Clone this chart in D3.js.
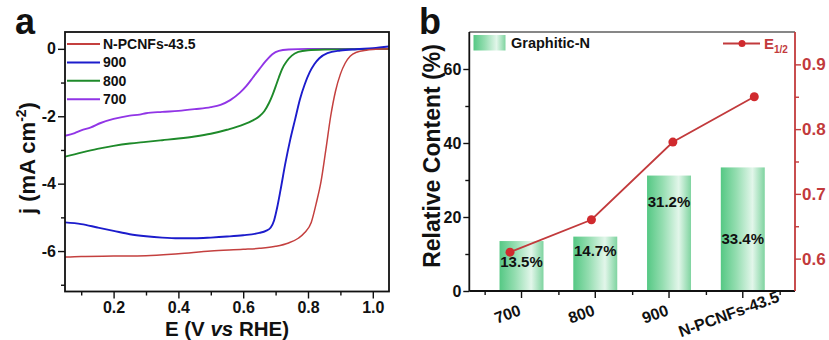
<!DOCTYPE html>
<html><head><meta charset="utf-8">
<script src="https://cdn.jsdelivr.net/npm/d3@7"></script>
<style>
body{margin:0;background:#fff;}
svg text{font-family:Arial,"Liberation Sans",sans-serif;}
</style></head>
<body><svg id="c" width="829" height="340"></svg>
<script>
// ---------- Panel a data (LSV curves) ----------
const seriesNames = ["N-PCNFs-43.5","900","800","700"];
const seriesColors = ["#c4403f","#1c1ccc","#1e8a2a","#9135e6"];
const redE = [0.05,0.1,0.2,0.3,0.4,0.5,0.6,0.65,0.7,0.74,0.77,0.79,0.81,0.825,0.84,0.855,0.87,0.885,0.9,0.915,0.93,0.95,0.98,1.0,1.05];
const redJ = [-6.18,-6.16,-6.15,-6.14,-6.08,-6.0,-5.95,-5.92,-5.86,-5.76,-5.62,-5.45,-5.15,-4.6,-3.95,-3.0,-2.0,-1.25,-0.75,-0.42,-0.22,-0.1,-0.04,-0.02,0.0];
const blueE = [0.05,0.1,0.15,0.2,0.25,0.3,0.35,0.4,0.45,0.5,0.55,0.6,0.65,0.67,0.685,0.695,0.705,0.715,0.73,0.745,0.76,0.775,0.79,0.805,0.82,0.835,0.86,0.9,0.95,1.0,1.05];
const blueJ = [-5.15,-5.2,-5.3,-5.4,-5.5,-5.56,-5.6,-5.62,-5.62,-5.6,-5.57,-5.53,-5.46,-5.4,-5.3,-5.1,-4.7,-4.2,-3.4,-2.7,-2.1,-1.5,-1.05,-0.7,-0.45,-0.28,-0.13,-0.05,-0.01,0.02,0.07];
const greenE = [0.05,0.1,0.15,0.2,0.25,0.3,0.35,0.4,0.45,0.5,0.55,0.6,0.63,0.65,0.665,0.68,0.69,0.7,0.71,0.72,0.735,0.75,0.77,0.8,0.85,1.05];
const greenJ = [-3.2,-3.08,-2.97,-2.88,-2.81,-2.76,-2.71,-2.66,-2.6,-2.52,-2.4,-2.25,-2.12,-2.0,-1.85,-1.6,-1.38,-1.12,-0.85,-0.6,-0.36,-0.2,-0.09,-0.04,-0.02,0.0];
const purpleE = [0.05,0.08,0.1,0.13,0.16,0.2,0.25,0.28,0.3,0.35,0.4,0.45,0.5,0.53,0.56,0.59,0.61,0.63,0.65,0.67,0.69,0.71,0.74,0.8,1.05];
const purpleJ = [-2.58,-2.5,-2.42,-2.33,-2.2,-2.08,-1.98,-1.95,-1.91,-1.87,-1.84,-1.79,-1.73,-1.66,-1.52,-1.3,-1.1,-0.85,-0.6,-0.36,-0.16,-0.06,-0.02,0.0,0.0];
const xTicksA = [0.2,0.4,0.6,0.8,1.0];
const yTicksA = [0,-2,-4,-6];

// ---------- Panel b data ----------
const categories = ["700","800","900","N-PCNFs-43.5"];
const graphiticN = [13.5,14.7,31.2,33.4];
const barLabels = ["13.5%","14.7%","31.2%","33.4%"];
const barLabelAt = [7.9,11.05,24.07,14.2];
const e12 = [0.61,0.66,0.78,0.85];
const yTicksB = [0,20,40,60];
const yTicksR = [0.6,0.7,0.8,0.9];

const svg = d3.select("#c");
const F = 'Arial,"Liberation Sans",sans-serif';

// ================= Panel a =================
const aL=65,aR=389,aT=32,aB=291.5;
const xA = d3.scaleLinear().domain([0.05,1.05]).range([aL,aR]);
const yA = d3.scaleLinear().domain([-7.2,0.5]).range([aB,aT]);
const gA = svg.append("g");

gA.append("g").attr("transform",`translate(0,${aB})`)
  .call(d3.axisBottom(xA).tickValues([0.1,0.3,0.5,0.7,0.9]).tickSize(4).tickFormat(""))
  .call(g=>g.select(".domain").remove());
gA.append("g").attr("transform",`translate(${aL},0)`)
  .call(d3.axisLeft(yA).tickValues([-1,-3,-5,-7]).tickSize(4).tickFormat(""))
  .call(g=>g.select(".domain").remove());
const axA = gA.append("g").attr("transform",`translate(0,${aB})`)
  .call(d3.axisBottom(xA).tickValues(xTicksA).tickSize(7).tickPadding(3).tickFormat(d3.format(".1f")))
  .call(g=>g.select(".domain").remove());
axA.selectAll("text").attr("font-size",16).attr("font-weight","bold").attr("font-family",F).attr("fill","#111");
const ayA = gA.append("g").attr("transform",`translate(${aL},0)`)
  .call(d3.axisLeft(yA).tickValues(yTicksA).tickSize(7).tickPadding(2).tickFormat(d=>String(d)))
  .call(g=>g.select(".domain").remove());
ayA.selectAll("text").attr("font-size",16).attr("font-weight","bold").attr("font-family",F).attr("fill","#111");
gA.selectAll(".tick line").attr("stroke","#111").attr("stroke-width",1.4);

svg.append("clipPath").attr("id","clipA").append("rect")
  .attr("x",aL).attr("y",aT).attr("width",aR-aL).attr("height",aB-aT);
const lineA = d3.line().x(d=>xA(d[0])).y(d=>yA(d[1])).curve(d3.curveMonotoneX);
const curves = [[redE,redJ],[blueE,blueJ],[greenE,greenJ],[purpleE,purpleJ]];
curves.slice().reverse().forEach((c,ri)=>{
  const i = curves.length-1-ri;
  const pts = c[0].map((e,k)=>[e,c[1][k]]);
  gA.append("path").attr("d",lineA(pts)).attr("fill","none")
    .attr("stroke",seriesColors[i]).attr("stroke-width",i===0?1.5:1.9).attr("clip-path","url(#clipA)");
});
gA.append("rect").attr("x",aL).attr("y",aT).attr("width",aR-aL).attr("height",aB-aT)
  .attr("fill","none").attr("stroke","#111").attr("stroke-width",1.8);

seriesNames.forEach((n,i)=>{
  const y = 44 + i*18.4;
  gA.append("line").attr("x1",67).attr("x2",100).attr("y1",y).attr("y2",y)
    .attr("stroke",seriesColors[i]).attr("stroke-width",2);
  gA.append("text").attr("x",103).attr("y",y).attr("dy","0.36em").text(n)
    .attr("font-size",14).attr("font-weight","bold").attr("fill","#111");
});
gA.append("text").attr("x",(aL+aR)/2).attr("y",336).attr("text-anchor","middle")
  .attr("font-size",20.5).attr("font-weight","bold").attr("fill","#111")
  .call(t=>{t.append("tspan").text("E (V ");t.append("tspan").attr("font-style","italic").text("vs");t.append("tspan").text(" RHE)");});
gA.append("text").attr("transform","translate(35,158) rotate(-90)").attr("text-anchor","middle")
  .attr("font-size",22).attr("font-weight","bold").attr("fill","#111")
  .call(t=>{t.append("tspan").text("j (mA cm");t.append("tspan").attr("font-size",14).attr("dy",-9).text("-2");t.append("tspan").attr("dy",9).text(")");});
gA.append("text").attr("x",15).attr("y",34).text("a").attr("font-size",36).attr("font-weight","bold").attr("fill","#111");

// ================= Panel b =================
const bL=469.3,bR=795,bT=32,bB=291;
const xB = d3.scaleBand().domain(categories).range([bL,bR]).paddingInner(0.404).paddingOuter(0.41);
const xP = d3.scalePoint().domain(categories).range([bL,bR]).padding(0.5);
const yB = d3.scaleLinear().domain([0,70]).range([bB,bT]);
const yR = d3.scaleLinear().domain([0.55,0.95]).range([bB,bT]);
const gB = svg.append("g");
const defs = svg.append("defs");
const grad = defs.append("linearGradient").attr("id","gbar").attr("x1","0").attr("x2","1").attr("y1","0").attr("y2","0");
grad.append("stop").attr("offset","0%").attr("stop-color","#55c884");
grad.append("stop").attr("offset","35%").attr("stop-color","#94ddb0");
grad.append("stop").attr("offset","72%").attr("stop-color","#e2f6ea");
grad.append("stop").attr("offset","100%").attr("stop-color","#7fd4a0");

gB.selectAll("rect.bar").data(graphiticN).join("rect").attr("class","bar")
  .attr("x",(d,i)=>xB(categories[i])).attr("width",xB.bandwidth())
  .attr("y",d=>yB(d)).attr("height",d=>yB(0)-yB(d)).attr("fill","url(#gbar)");

const step = xB.step();
const minorX = categories.map(c=>xB(c)+xB.bandwidth()/2-step/2).concat([xB(categories[3])+xB.bandwidth()/2+step/2]);
const xBc = d3.scaleLinear().domain([bL,bR]).range([bL,bR]);
gB.append("g").attr("transform",`translate(0,${bB})`)
  .call(d3.axisBottom(xBc).tickValues(minorX).tickSize(4).tickFormat(""))
  .call(g=>g.select(".domain").remove());
gB.append("g").attr("transform",`translate(0,${bB})`)
  .call(d3.axisBottom(xB).tickSize(7).tickFormat(""))
  .call(g=>g.select(".domain").remove());
gB.append("g").selectAll("text").data(categories).join("text")
  .attr("transform",d=>`translate(${xB(d)+xB.bandwidth()/2-14},314) rotate(-20)`)
  .attr("text-anchor","middle").attr("dy","0.35em").text(d=>d)
  .attr("font-size",16).attr("font-weight","bold").attr("fill","#111");

gB.append("g").attr("transform",`translate(${bL},0)`)
  .call(d3.axisLeft(yB).tickValues([10,30,50]).tickSize(4).tickFormat(""))
  .call(g=>g.select(".domain").remove());
const lyB2 = gB.append("g").attr("transform",`translate(${bL},0)`)
  .call(d3.axisLeft(yB).tickValues(yTicksB).tickSize(6).tickPadding(2))
  .call(g=>g.select(".domain").remove());
lyB2.selectAll("text").attr("font-size",16).attr("font-weight","bold").attr("font-family",F).attr("fill","#111");
gB.selectAll(".tick line").attr("stroke","#111").attr("stroke-width",1.4);

const red = "#c23a3c";
const ryB = gB.append("g").attr("transform",`translate(${bR},0)`)
  .call(d3.axisRight(yR).tickValues([0.65,0.75,0.85]).tickSize(4).tickFormat(""))
  .call(g=>g.select(".domain").remove());
const ryB2 = gB.append("g").attr("transform",`translate(${bR},0)`)
  .call(d3.axisRight(yR).tickValues(yTicksR).tickSize(6).tickPadding(1).tickFormat(d3.format(".1f")))
  .call(g=>g.select(".domain").remove());
ryB.selectAll("line").attr("stroke",red).attr("stroke-width",1.4);
ryB2.selectAll("line").attr("stroke",red).attr("stroke-width",1.4);
ryB2.selectAll("text").attr("font-size",17).attr("font-weight","bold").attr("font-family",F).attr("fill",red);

gB.append("line").attr("x1",bL).attr("x2",bR).attr("y1",bT).attr("y2",bT).attr("stroke","#111").attr("stroke-width",1.2);
gB.append("line").attr("x1",bL).attr("x2",bR).attr("y1",bB).attr("y2",bB).attr("stroke","#111").attr("stroke-width",1.8);
gB.append("line").attr("x1",bL).attr("x2",bL).attr("y1",bT).attr("y2",bB).attr("stroke","#111").attr("stroke-width",1.8);
gB.append("line").attr("x1",bR).attr("x2",bR).attr("y1",bT).attr("y2",bB).attr("stroke",red).attr("stroke-width",1.8);

const lineB = d3.line().x((d,i)=>xP(categories[i])).y(d=>yR(d));
gB.append("path").attr("d",lineB(e12)).attr("fill","none").attr("stroke",red).attr("stroke-width",1.8);
gB.selectAll("circle.pt").data(e12).join("circle").attr("class","pt")
  .attr("cx",(d,i)=>xP(categories[i])).attr("cy",d=>yR(d)).attr("r",4.5).attr("fill","#d02a2e");

gB.selectAll("text.bl").data(barLabels).join("text").attr("class","bl")
  .attr("x",(d,i)=>xB(categories[i])+xB.bandwidth()/2).attr("y",(d,i)=>yB(barLabelAt[i]))
  .attr("dy","0.36em").attr("text-anchor","middle").text(d=>d)
  .attr("font-size",15).attr("font-weight","bold").attr("fill","#111");

gB.append("rect").attr("x",473.5).attr("y",35).attr("width",32).attr("height",15.5).attr("fill","url(#gbar)");
gB.append("text").attr("x",511).attr("y",43).attr("dy","0.36em").text("Graphitic-N")
  .attr("font-size",14.5).attr("font-weight","bold").attr("fill","#111");
gB.append("line").attr("x1",723).attr("x2",760).attr("y1",43.5).attr("y2",43.5).attr("stroke",red).attr("stroke-width",1.8);
gB.append("circle").attr("cx",742).attr("cy",43.5).attr("r",3.5).attr("fill","#d02a2e");
gB.append("text").attr("x",764).attr("y",43.5).attr("dy","0.36em").attr("font-size",15).attr("font-weight","bold").attr("fill",red)
  .call(t=>{t.append("tspan").text("E");t.append("tspan").attr("font-size",10).attr("dy",4).text("1/2");});

gB.append("text").attr("transform","translate(440,156) rotate(-90)").attr("text-anchor","middle")
  .attr("font-size",23).attr("font-weight","bold").attr("fill","#111").text("Relative Content (%)");
gB.append("text").attr("x",419).attr("y",34).text("b").attr("font-size",36).attr("font-weight","bold").attr("fill","#111");
</script></body></html>
